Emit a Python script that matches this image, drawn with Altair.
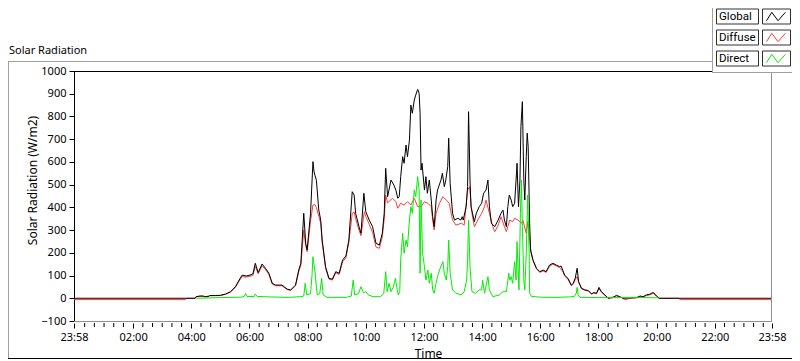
import altair as alt
import pandas as pd

# ---------------- data (minutes since midnight; 23:58 of previous day = -2) ----------------
global_t = [
    -2, 248, 250, 258, 265, 268, 275, 278, 290, 300,
    310, 321, 331, 340, 345, 353, 361, 367, 372, 378,
    386, 393, 400, 407, 414, 427, 438, 445, 455, 462,
    466, 472, 476, 479, 486, 491, 493, 495, 498, 503,
    507, 510, 517, 524, 531, 538, 545, 552, 559, 565,
    572, 576, 579, 586, 590, 596, 600, 607, 614, 621,
    628, 634, 638, 641, 645, 652, 658, 662, 666, 669,
    672, 676, 679, 683, 686, 690, 693, 696, 700, 703,
    707, 710, 712, 714, 716, 721, 724, 727, 731, 735,
    738, 741, 745, 748, 755, 758, 762, 765, 769, 771,
    774, 779, 783, 790, 796, 799, 801, 807, 810, 812,
    815, 817, 824, 828, 834, 839, 843, 848, 852, 855,
    859, 866, 873, 879, 883, 886, 890, 893, 896, 900,
    903, 907, 910, 912, 915, 918, 920, 923, 926, 928,
    931, 933, 935, 938, 940, 945, 952, 959, 966, 972,
    979, 986, 993, 1000, 1003, 1007, 1010, 1017, 1024, 1028,
    1032, 1036, 1039, 1045, 1052, 1059, 1066, 1070, 1076, 1081,
    1086, 1093, 1100, 1110, 1117, 1124, 1131, 1159, 1166, 1172,
    1179, 1186, 1193, 1200, 1205, 1438,
]
global_v = [
    0, 0, 7, 10, 10, 7, 7, 12, 12, 13,
    18, 29, 51, 85, 102, 98, 102, 107, 154, 113,
    151, 132, 110, 66, 58, 58, 40, 37, 58, 128,
    154, 374, 242, 212, 374, 601, 560, 542, 520, 388,
    344, 256, 139, 88, 84, 117, 110, 168, 186, 256,
    469, 454, 374, 315, 286, 462, 381, 344, 315, 242,
    234, 286, 374, 572, 447, 520, 498, 476, 440, 447,
    535, 623, 594, 674, 623, 696, 850, 814, 872, 894,
    919, 902, 814, 564, 594, 476, 535, 462, 520, 432,
    359, 315, 432, 476, 520, 550, 491, 520, 579, 704,
    506, 374, 344, 352, 344, 359, 344, 403, 491, 821,
    520, 403, 337, 374, 403, 418, 462, 476, 520, 403,
    330, 315, 344, 374, 388, 344, 315, 403, 454, 432,
    403, 418, 520, 594, 403, 520, 755, 865, 520, 432,
    623, 726, 667, 330, 212, 168, 132, 117, 124, 117,
    146, 154, 146, 139, 142, 120, 102, 88, 58, 66,
    88, 132, 73, 44, 37, 34, 19, 25, 22, 48,
    29, 15, 0, 3, 13, 7, 0, 3, 10, 7,
    15, 18, 26, 10, 0, 0,
]

diffuse_t = [
    -2, 228, 231, 248, 250, 258, 268, 278, 300, 310,
    321, 331, 340, 345, 353, 361, 367, 372, 378, 386,
    393, 400, 407, 414, 427, 438, 445, 455, 462, 466,
    472, 476, 479, 486, 491, 495, 498, 503, 507, 510,
    517, 524, 531, 538, 545, 552, 559, 565, 572, 576,
    579, 586, 590, 597, 600, 607, 614, 621, 628, 634,
    638, 641, 645, 655, 662, 666, 672, 679, 686, 693,
    700, 707, 714, 721, 728, 735, 738, 741, 745, 752,
    759, 766, 772, 779, 786, 797, 803, 810, 814, 819,
    824, 831, 839, 845, 848, 855, 862, 866, 872, 879,
    886, 890, 897, 903, 907, 914, 921, 924, 931, 934,
    938, 941, 945, 952, 959, 966, 972, 979, 986, 993,
    1000, 1007, 1010, 1017, 1024, 1028, 1032, 1036, 1039, 1045,
    1052, 1059, 1066, 1070, 1076, 1081, 1086, 1093, 1100, 1117,
    1124, 1130, 1133, 1139, 1142, 1159, 1166, 1172, 1179, 1186,
    1193, 1200, 1205, 1246, 1248, 1438,
]
diffuse_v = [
    -6, -6, 0, 0, 6, 9, 7, 11, 12, 17,
    27, 48, 80, 96, 93, 97, 100, 140, 108, 143,
    126, 106, 62, 55, 55, 38, 35, 55, 120, 145,
    300, 232, 205, 340, 410, 412, 400, 360, 330, 245,
    132, 84, 80, 112, 105, 160, 178, 245, 374, 380,
    350, 300, 275, 381, 360, 326, 290, 225, 220, 270,
    350, 454, 420, 440, 425, 396, 418, 410, 425, 410,
    440, 403, 403, 425, 418, 403, 344, 300, 374, 418,
    447, 432, 418, 344, 322, 330, 322, 476, 491, 374,
    315, 344, 374, 403, 432, 374, 315, 293, 315, 359,
    315, 293, 344, 337, 352, 344, 330, 344, 286, 337,
    256, 198, 165, 130, 114, 120, 114, 140, 150, 142,
    135, 116, 98, 84, 55, 62, 82, 95, 70, 42,
    35, 32, 18, 23, 20, 42, 27, 13, 0, 10,
    5, 0, -6, -6, 0, 2, 8, 5, 12, 15,
    22, 8, 0, 0, -6, -6,
]

direct_t = [
    251, 300, 345, 350, 352, 355, 370, 372, 376, 400,
    440, 466, 472, 475, 478, 486, 489, 491, 493, 495,
    498, 500, 505, 509, 512, 520, 560, 570, 574, 577,
    585, 590, 595, 600, 605, 615, 630, 637, 641, 644,
    648, 652, 657, 661, 665, 667, 670, 672, 676, 679,
    683, 686, 690, 693, 696, 700, 703, 707, 710, 712,
    714, 717, 721, 724, 728, 731, 735, 738, 741, 745,
    748, 752, 759, 762, 766, 769, 771, 774, 779, 786,
    797, 803, 808, 810, 812, 815, 819, 826, 834, 839,
    841, 845, 852, 855, 862, 876, 883, 890, 895, 897,
    900, 903, 907, 910, 912, 916, 919, 921, 923, 926,
    928, 931, 934, 937, 938, 942, 960, 990, 1020, 1030,
    1034, 1036, 1038, 1042, 1080, 1120, 1160, 1205,
]
direct_v = [
    0, 3, 5, 10, 22, 8, 8, 18, 8, 6,
    4, 7, 10, 66, 15, 20, 100, 183, 150, 120,
    50, 15, 20, 88, 15, 4, 4, 10, 80, 15,
    20, 51, 25, 29, 15, 7, 7, 20, 117, 29,
    66, 29, 50, 88, 37, 15, 29, 168, 286, 198,
    256, 227, 344, 403, 374, 476, 447, 535, 476, 110,
    432, 200, 139, 80, 124, 66, 110, 37, 22, 66,
    95, 124, 161, 110, 80, 139, 256, 110, 37, 22,
    15, 29, 80, 168, 344, 139, 29, 22, 37, 37,
    80, 22, 95, 37, 7, 15, 29, 29, 110, 80,
    95, 66, 161, 80, 249, 37, 374, 520, 315, 80,
    37, 198, 454, 198, 22, 8, 5, 4, 6, 8,
    20, 48, 15, 4, 3, 3, 4, 2,
]

series_names = ["Global", "Diffuse", "Direct"]
x_tick_values = [-2, 120, 240, 360, 480, 600, 720, 840, 960, 1080, 1200, 1320, 1438]
x_tick_labels = ["23:58", "02:00", "04:00", "06:00", "08:00", "10:00", "12:00",
                 "14:00", "16:00", "18:00", "20:00", "22:00", "23:58"]
y_tick_values = [-100, 0, 100, 200, 300, 400, 500, 600, 700, 800, 900, 1000]

# ---------------- styles / layout ----------------
FONT = "Noto Sans"
LFONT = "Roboto"
colors = {"Global": "#000000", "Diffuse": "#ff3c3c", "Direct": "#00ee00"}
W, H = 698, 250

df_global = pd.DataFrame({"t": global_t, "v": global_v})
df_diffuse = pd.DataFrame({"t": diffuse_t, "v": diffuse_v})
df_direct = pd.DataFrame({"t": direct_t, "v": direct_v})
minor_ticks = [m for m in range(20, 1440, 20) if m not in x_tick_values]
df_minor = pd.DataFrame({"m": minor_ticks})
one = pd.DataFrame({"k": [0]})

x_scale = alt.Scale(domain=[-2, 1438], nice=False, zero=False)
y_scale = alt.Scale(domain=[-100, 1000], nice=False, zero=False)

label_expr = "{}[indexof({}, datum.value)]".format(
    "[" + ",".join("'%s'" % s for s in x_tick_labels) + "]",
    "[" + ",".join(str(v) for v in x_tick_values) + "]",
)

x_axis = alt.Axis(
    values=x_tick_values, labelExpr=label_expr, domain=False, grid=False,
    tickSize=5, tickColor="black", offset=2, labelPadding=3, labelFlush=False,
    labelFont=FONT, labelFontSize=11, labelColor="black",
    title="Time", titleFont=FONT, titleFontSize=12, titleFontWeight="normal",
    titleColor="black", titleX=354, titleY=30, titleAlign="center",
    titleBaseline="middle",
)
y_axis = alt.Axis(
    values=y_tick_values, format="d", domain=True, domainColor="black", grid=False,
    tickSize=5, tickColor="black", labelPadding=3,
    labelFont=FONT, labelFontSize=11, labelColor="black",
    title="Solar Radiation (W/m2)", titleFont=FONT, titleFontSize=12,
    titleFontWeight="normal", titleColor="black", titleX=-42, titleY=109,
    titleAngle=270, titleAlign="center", titleBaseline="middle",
)

X = alt.X("t:Q", scale=x_scale, axis=x_axis)
Y = alt.Y("v:Q", scale=y_scale, axis=y_axis)


def rule(x, x2=None, y=None, y2=None, color="black"):
    enc = {"x": alt.value(x)}
    if x2 is not None:
        enc["x2"] = alt.value(x2)
    enc["y"] = alt.value(y)
    if y2 is not None:
        enc["y2"] = alt.value(y2)
    return alt.Chart(one).mark_rule(color=color, strokeWidth=1).encode(**enc)


layers = []
# data lines (red under black, green on top)
layers.append(alt.Chart(df_diffuse).mark_line(color=colors["Diffuse"], strokeWidth=1).encode(x=X, y=Y))
layers.append(alt.Chart(df_global).mark_line(color=colors["Global"], strokeWidth=1).encode(x=X, y=Y))
layers.append(alt.Chart(df_direct).mark_line(color=colors["Direct"], strokeWidth=1).encode(x=X, y=Y))

# minor ticks
layers.append(
    alt.Chart(df_minor).mark_rule(color="black", strokeWidth=1).encode(
        x=alt.X("m:Q", scale=x_scale, axis=x_axis),
        y=alt.value(H + 2), y2=alt.value(H + 6),
    )
)

# outer frame
layers.append(rule(-66, 640, -9.5, color="#a0a0a0"))
layers.append(rule(-65.5, None, -10, 288, color="#a0a0a0"))
layers.append(rule(-66, 718, 287.5, color="#000000"))
# plot frame
layers.append(rule(0, W, 0.5, color="#000000"))
layers.append(rule(W - 0.5, None, 0, H, color="#909090"))
layers.append(rule(0, W, H + 0.5, color="#909090"))

# chart label
layers.append(
    alt.Chart(one).mark_text(align="left", baseline="middle", font=FONT,
                             fontSize=11, color="black").encode(
        x=alt.value(-65), y=alt.value(-20), text=alt.value("Solar Radiation"))
)

# legend panel
layers.append(
    alt.Chart(one).mark_rect(fill="white", stroke=None).encode(
        x=alt.value(638), x2=alt.value(718), y=alt.value(-63), y2=alt.value(1.5))
)
layers.append(rule(638.5, None, -63, 1.5, color="#a0a0a0"))
layers.append(rule(638, 718, 1.5, color="#a0a0a0"))

zigzag = "M -1 0.4 L -0.5 -0.4 L 0.1 0.4 L 0.8 -0.4"
for i, name in enumerate(series_names):
    cy = -54.5 + 21 * i
    layers.append(
        alt.Chart(one).mark_rect(fill="white", stroke="#303030", strokeWidth=1).encode(
            x=alt.value(642.5), x2=alt.value(684.5), y=alt.value(cy - 7.5), y2=alt.value(cy + 7.5))
    )
    layers.append(
        alt.Chart(one).mark_rect(fill="white", stroke="#303030", strokeWidth=1).encode(
            x=alt.value(688.5), x2=alt.value(716.5), y=alt.value(cy - 7.5), y2=alt.value(cy + 7.5))
    )
    layers.append(
        alt.Chart(one).mark_text(align="left", baseline="middle", font=LFONT,
                                 fontSize=11.5, color="black").encode(
            x=alt.value(645), y=alt.value(cy + 0.5), text=alt.value(name))
    )
    layers.append(
        alt.Chart(one).mark_point(shape=zigzag, filled=False, strokeWidth=1,
                                  size=441, color=colors[name], opacity=1).encode(
            x=alt.value(703), y=alt.value(cy))
    )

chart = alt.layer(*layers).properties(
    width=W, height=H,
    padding={"left": 66, "top": 63, "right": 20, "bottom": 40},
    autosize=alt.AutoSizeParams(type="none"),
    background="white",
).configure_view(stroke=None)

chart.save("out.html", embed_options={"renderer": "svg", "actions": False})
